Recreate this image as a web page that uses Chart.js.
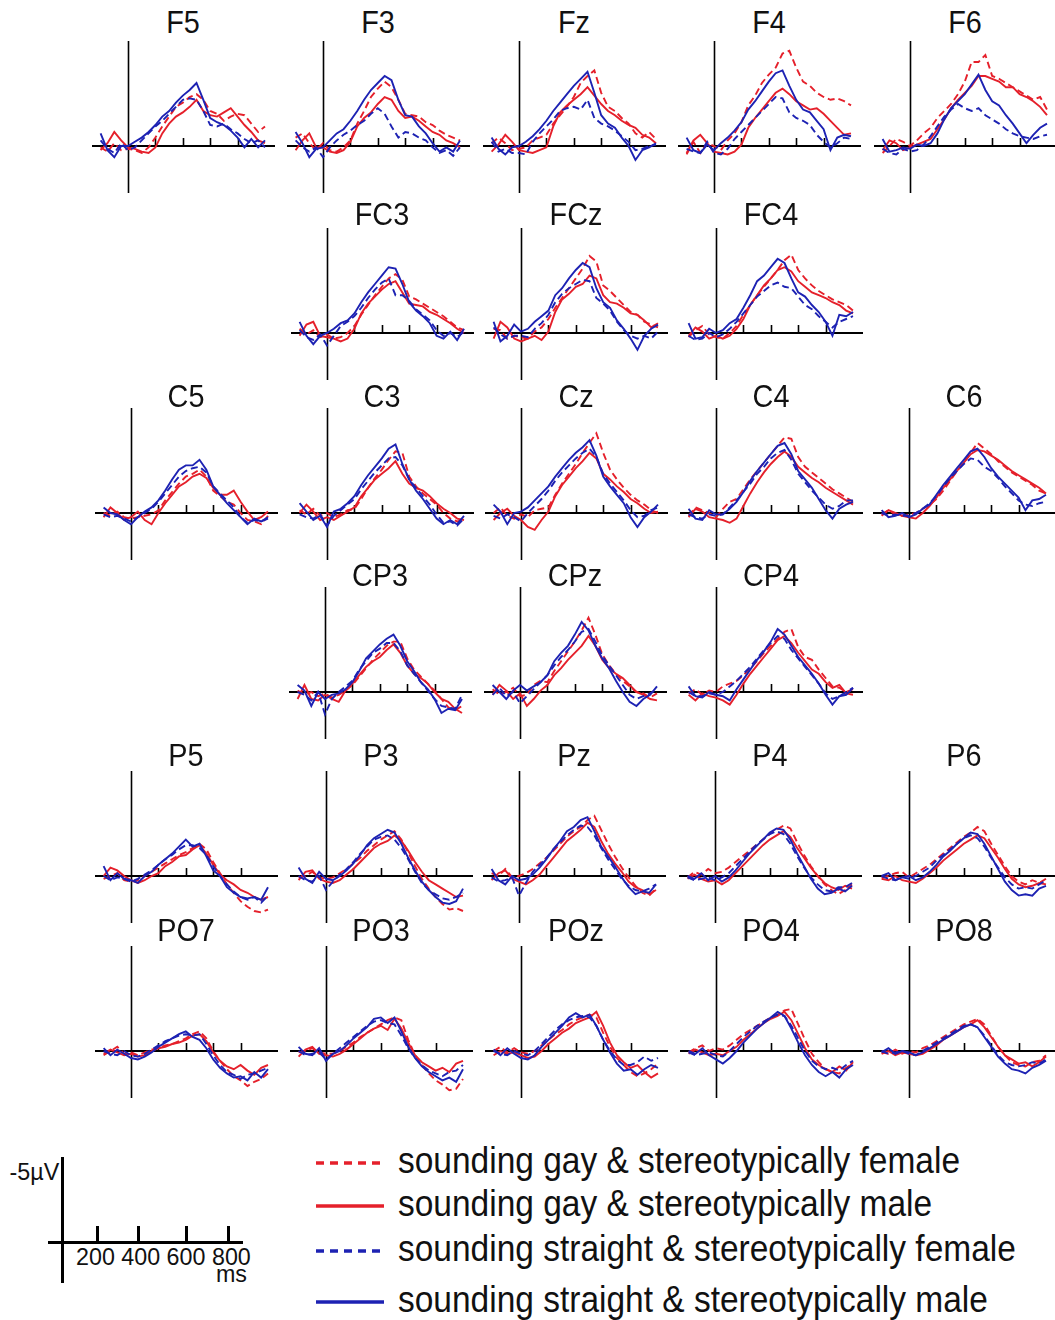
<!DOCTYPE html>
<html>
<head>
<meta charset="utf-8">
<script src="https://cdn.jsdelivr.net/npm/chart.js@4.4.0/dist/chart.umd.min.js"></script>
<style>
  html, body { margin:0; padding:0; background:#fff; width:1055px; height:1320px; overflow:hidden; position:relative; font-family:"Liberation Sans", Arial, Helvetica, sans-serif; }
  canvas.panel { position:absolute; }
  .title { position:absolute; font-size:31px; line-height:31px; white-space:nowrap; color:#111; transform:translateX(-50%) scaleX(0.93); }
  .legtext { position:absolute; font-size:36px; line-height:36px; white-space:nowrap; color:#111; transform-origin:0 0; transform:scaleX(0.93); }
  .sb { position:absolute; background:#000; }
  .sblab { position:absolute; font-size:24px; line-height:24px; white-space:pre; color:#111; }
</style>
</head>
<body>
<script>
// ---------------- DATA ----------------
const times = [-200,-150,-100,-50,0,50,100,150,200,250,300,350,400,450,500,550,600,650,700,750,800,850,900,950,1000];
const channels = ['F5','F3','Fz','F4','F6','FC3','FCz','FC4','C5','C3','Cz','C4','C6','CP3','CPz','CP4','P5','P3','Pz','P4','P6','PO7','PO3','POz','PO4','PO8'];
const tickTimes = [200,400,600,800];
const tickLabels = ['200','400','600','800'];
const legendLabels = ['sounding gay & stereotypically female','sounding gay & stereotypically male','sounding straight & stereotypically female','sounding straight & stereotypically male'];

// sounding gay & stereotypically female (red dashed), µV
const gayFemale = [
[0.1,0.4,-0.2,0.3,0.2,0.3,0.5,0.1,-0.6,-1.4,-2.1,-2.8,-3.1,-3.5,-3.7,-3.3,-2.5,-2.3,-1.8,-2.1,-2.3,-2.2,-1.6,-1.0,-1.4],
[-0.6,-0.9,-0.2,0.3,-0.2,0.3,0.4,0.1,-0.4,-1.6,-2.5,-3.5,-4.1,-4.6,-4.2,-3.3,-2.3,-2.2,-2.1,-1.7,-1.5,-1.1,-0.8,-0.6,-0.4],
[-0.2,-0.6,-0.2,0.3,0.2,0.1,-0.4,-0.6,-0.8,-1.6,-2.2,-2.8,-3.5,-4.5,-5.0,-5.4,-3.8,-2.8,-2.5,-2.0,-1.6,-0.9,-0.6,-1.0,-0.5],
[0.6,-0.3,0.5,-0.2,0.0,0.3,-0.4,-0.9,-1.7,-2.9,-3.6,-4.5,-5.1,-5.6,-6.6,-6.8,-5.6,-4.6,-4.3,-3.8,-3.5,-3.3,-3.4,-3.2,-2.9],
[0.5,0.0,-0.5,-0.3,0.0,-0.4,-0.9,-1.3,-2.0,-2.5,-3.0,-3.7,-4.6,-6.0,-6.0,-6.5,-5.0,-4.8,-4.5,-4.2,-3.9,-3.6,-3.3,-3.5,-2.6],
[-0.3,0.1,-0.2,0.3,0.1,0.4,0.3,0.0,-0.5,-1.3,-2.0,-2.7,-3.3,-3.9,-4.2,-3.8,-2.6,-2.4,-2.1,-1.8,-1.5,-1.2,-0.8,-0.4,-0.2],
[-0.3,-0.2,0.4,0.2,0.3,0.4,-0.1,-0.4,-1.0,-1.8,-2.5,-3.2,-3.9,-4.6,-5.5,-5.1,-3.4,-3.0,-2.5,-2.0,-1.5,-1.3,-0.8,-0.6,-0.4],
[0.3,-0.2,-0.5,0.1,0.3,0.4,0.0,-0.5,-1.3,-2.0,-2.7,-3.3,-3.9,-4.5,-5.2,-5.6,-4.5,-3.9,-3.4,-3.0,-2.7,-2.4,-2.2,-2.0,-1.6],
[0.0,0.2,-0.1,0.3,0.4,0.3,0.2,0.1,-0.2,-0.9,-1.5,-2.1,-2.6,-2.8,-3.1,-2.6,-1.6,-1.2,-0.8,-0.6,0.0,0.5,0.6,0.8,0.2],
[-0.2,0.1,-0.3,0.2,0.0,0.3,0.1,-0.2,-0.3,-1.0,-1.8,-2.5,-3.1,-3.8,-4.4,-4.3,-2.6,-1.9,-1.4,-1.0,-0.6,0.0,0.4,0.6,0.5],
[0.0,-0.4,0.2,0.4,0.1,0.3,-0.2,-0.3,-0.4,-1.3,-2.1,-2.8,-3.5,-4.3,-5.0,-5.7,-4.3,-3.1,-2.4,-1.8,-1.3,-0.9,-0.6,-0.2,0.0],
[0.2,-0.4,-0.2,0.0,0.3,-0.3,-0.8,-1.0,-1.7,-2.4,-3.0,-3.6,-4.2,-4.8,-5.4,-5.3,-4.0,-3.3,-2.9,-2.5,-2.1,-1.7,-1.4,-1.1,-0.8],
[0.1,-0.2,0.1,0.2,0.1,0.0,-0.3,-0.6,-1.0,-1.6,-2.3,-3.0,-3.6,-4.3,-5.0,-4.6,-4.2,-3.7,-3.3,-2.9,-2.6,-2.3,-2.0,-1.6,-1.4],
[-0.1,0.2,0.0,0.3,0.1,0.4,0.2,-0.1,-0.5,-1.1,-1.7,-2.3,-2.8,-3.3,-3.6,-3.6,-2.4,-1.6,-1.1,-0.6,-0.1,0.5,1.1,1.3,1.0],
[-0.2,0.2,0.0,-0.3,0.3,0.2,-0.5,-0.8,-0.7,-1.5,-2.2,-2.9,-3.6,-4.4,-5.3,-4.1,-2.7,-1.9,-1.3,-0.8,-0.4,0.0,0.1,0.4,0.1],
[0.1,-0.2,0.2,-0.1,0.0,-0.4,-0.6,-0.8,-1.2,-1.7,-2.2,-2.8,-3.3,-3.8,-4.3,-4.5,-3.2,-2.5,-2.3,-1.6,-1.0,-0.4,-0.3,0.0,-0.2],
[0.2,0.0,-0.2,0.3,0.4,0.3,0.0,-0.3,-0.6,-0.9,-1.2,-1.5,-1.7,-2.0,-2.3,-1.9,-1.0,-0.2,0.6,1.2,1.8,2.2,2.5,2.6,2.4],
[0.1,0.0,-0.3,0.1,0.2,0.1,-0.2,-0.5,-0.9,-1.3,-1.8,-2.2,-2.6,-2.9,-3.2,-2.6,-1.7,-0.7,0.2,0.9,1.5,2.0,2.4,2.3,2.5],
[-0.2,0.0,-0.5,0.1,0.0,-0.2,-0.5,-0.9,-1.3,-1.8,-2.3,-2.8,-3.2,-3.5,-4.0,-4.3,-3.3,-2.3,-1.4,-0.6,0.1,0.7,1.2,1.4,0.9],
[0.1,-0.3,-0.1,-0.5,-0.2,-0.3,-0.6,-1.0,-1.4,-1.8,-2.2,-2.6,-3.0,-3.3,-3.6,-3.4,-2.4,-1.5,-0.7,0.0,0.6,1.0,1.3,1.0,0.6],
[0.1,0.0,-0.2,-0.3,0.1,-0.2,-0.5,-0.8,-1.2,-1.6,-2.0,-2.4,-2.8,-3.1,-3.5,-3.2,-2.3,-1.5,-0.7,0.0,0.4,0.6,0.3,0.5,0.2],
[0.3,0.0,-0.3,0.2,0.1,0.3,0.1,-0.1,-0.2,-0.4,-0.5,-0.7,-0.9,-1.2,-1.4,-0.9,0.0,0.7,1.3,1.8,2.1,2.5,2.2,2.0,1.6],
[0.1,0.0,-0.2,0.1,0.2,0.2,0.0,-0.3,-0.6,-1.0,-1.3,-1.6,-1.9,-2.2,-2.4,-2.2,-0.8,0.3,1.0,1.6,2.1,2.4,2.8,2.7,2.0],
[0.0,-0.3,0.1,-0.2,0.1,0.2,0.0,-0.4,-0.8,-1.2,-1.5,-1.9,-2.2,-2.4,-2.6,-2.4,-1.3,-0.3,0.5,1.0,1.5,1.8,1.6,1.3,0.9],
[0.1,-0.2,-0.4,0.0,-0.2,-0.1,-0.4,-0.8,-1.2,-1.5,-1.8,-2.1,-2.4,-2.6,-2.9,-3.0,-1.9,-0.8,0.2,0.8,1.3,1.5,1.6,1.2,0.9],
[0.1,0.2,-0.1,0.2,0.0,0.1,-0.2,-0.4,-0.7,-1.0,-1.3,-1.6,-1.9,-2.1,-2.3,-1.9,-1.1,-0.3,0.3,0.8,1.0,1.1,0.8,0.7,0.3]
];

// sounding gay & stereotypically male (red solid), µV
const gayMale = [
[0.3,-0.2,-1.0,-0.4,0.1,0.2,0.4,0.5,0.1,-0.9,-1.6,-2.1,-2.4,-2.8,-3.3,-2.5,-2.2,-2.1,-2.4,-2.7,-2.1,-1.5,-1.0,-0.4,-0.2],
[0.3,-0.4,-0.9,0.1,0.1,0.4,0.5,0.3,-0.3,-1.4,-2.0,-2.4,-3.0,-3.5,-3.3,-2.5,-2.0,-2.1,-1.8,-1.4,-1.0,-0.8,-0.4,-0.2,0.1],
[0.4,-0.1,-0.8,-0.3,0.3,0.4,0.5,0.3,0.1,-1.4,-2.4,-2.9,-3.3,-3.7,-4.2,-3.6,-3.0,-2.5,-2.2,-1.8,-1.5,-1.3,-0.8,-0.6,-0.2],
[0.5,-0.4,-0.8,-0.2,0.4,0.5,0.6,0.4,-0.1,-1.3,-2.0,-2.6,-3.2,-3.8,-4.1,-3.7,-3.2,-2.9,-2.6,-2.7,-2.3,-1.8,-1.3,-0.8,-0.9],
[0.3,-0.4,-0.2,0.3,0.1,-0.1,-0.3,-0.5,-1.2,-1.9,-2.7,-3.3,-3.8,-4.3,-5.0,-5.0,-4.8,-4.6,-4.2,-4.2,-3.7,-3.5,-3.2,-2.8,-2.2],
[0.2,-0.6,-0.8,0.2,0.3,0.4,0.6,0.4,-0.3,-1.4,-2.1,-2.6,-3.1,-3.5,-3.7,-2.9,-2.1,-2.0,-1.9,-1.5,-1.3,-1.0,-0.7,-0.3,0.0],
[0.4,-0.8,-0.4,0.4,0.6,0.4,0.2,0.5,-0.1,-1.5,-2.4,-2.8,-3.3,-3.5,-4.1,-3.9,-2.7,-2.2,-2.1,-1.8,-1.4,-1.3,-0.9,-0.4,-0.7],
[0.2,-0.4,-0.1,0.4,0.2,0.4,0.2,-0.3,-1.0,-2.0,-2.7,-3.4,-3.9,-4.5,-4.7,-4.4,-3.7,-3.3,-2.9,-2.7,-2.5,-2.2,-2.0,-1.6,-1.4],
[0.3,-0.4,0.0,0.5,0.3,-0.1,0.5,0.8,0.0,-0.7,-1.3,-1.9,-2.2,-2.6,-2.8,-2.5,-1.8,-1.3,-1.3,-1.6,-0.8,-0.1,0.5,0.3,-0.1],
[0.0,-0.6,-0.1,0.5,0.3,0.5,0.2,-0.1,-0.4,-1.2,-1.8,-2.4,-2.8,-3.2,-3.7,-2.8,-2.1,-1.8,-1.6,-1.2,-0.7,-0.3,0.0,0.4,0.5],
[0.5,0.0,-0.3,0.2,0.5,1.0,1.2,0.5,-0.1,-1.2,-2.0,-2.6,-3.2,-3.7,-4.3,-3.9,-2.8,-2.4,-1.9,-1.5,-1.0,-0.7,-0.3,0.0,-0.1],
[0.3,-0.3,-0.1,0.3,0.4,0.5,0.7,0.4,-0.5,-1.4,-2.2,-2.9,-3.5,-4.0,-4.4,-4.0,-3.3,-2.9,-2.5,-2.2,-1.8,-1.5,-1.2,-0.9,-0.6],
[0.2,-0.2,0.0,0.2,0.3,0.4,0.0,-0.5,-1.1,-1.8,-2.4,-3.0,-3.6,-4.2,-4.5,-4.4,-4.1,-3.8,-3.4,-3.0,-2.7,-2.4,-2.1,-1.8,-1.4],
[0.5,-0.5,0.5,0.6,0.2,0.5,0.7,-0.1,-0.6,-1.2,-1.8,-2.2,-2.5,-3.0,-3.4,-2.8,-1.9,-1.3,-1.0,-0.6,0.0,0.5,0.7,1.2,1.5],
[0.2,-0.5,-0.1,0.5,0.1,1.0,0.5,-0.1,-0.5,-1.2,-1.7,-2.3,-2.8,-3.3,-4.0,-3.3,-2.3,-1.7,-1.3,-1.0,-0.5,0.0,0.2,0.5,0.6],
[0.2,0.6,0.1,0.3,0.4,0.6,0.9,0.2,-0.6,-1.3,-1.9,-2.5,-3.1,-3.7,-4.0,-3.5,-2.8,-2.2,-1.6,-1.3,-0.7,-0.3,-0.5,0.1,0.2],
[0.0,-0.6,-0.4,0.0,0.3,0.5,0.3,0.0,-0.2,-0.7,-1.0,-1.4,-1.5,-1.9,-2.2,-1.6,-0.8,-0.1,0.3,0.6,1.0,1.2,1.5,1.7,1.5],
[0.3,-0.3,-0.4,0.2,0.4,0.5,0.3,-0.1,-0.5,-1.0,-1.5,-2.0,-2.3,-2.5,-2.9,-2.5,-1.8,-1.0,-0.3,0.3,0.6,0.9,1.2,1.5,1.4],
[0.3,-0.2,-0.4,0.2,0.4,0.6,0.3,-0.1,-0.7,-1.3,-1.9,-2.5,-2.9,-3.3,-3.8,-3.5,-2.5,-1.6,-0.9,-0.3,0.4,0.8,1.0,1.3,1.0],
[0.2,-0.1,0.2,0.4,0.3,0.6,0.3,-0.2,-0.7,-1.2,-1.7,-2.2,-2.6,-2.9,-3.2,-2.8,-2.0,-1.3,-0.6,0.0,0.5,0.8,1.0,0.7,0.9],
[0.2,0.3,0.0,0.3,0.4,0.5,0.2,-0.2,-0.6,-1.1,-1.5,-1.9,-2.3,-2.6,-2.9,-2.7,-2.0,-1.3,-0.5,0.2,0.6,0.8,0.7,0.5,0.6],
[0.2,-0.1,0.1,0.3,0.2,0.4,0.3,0.0,-0.2,-0.3,-0.5,-0.6,-0.8,-1.1,-1.2,-0.7,0.1,0.7,1.1,1.3,1.0,1.4,1.7,1.2,1.0],
[0.4,-0.1,-0.3,0.2,0.3,0.4,0.2,-0.1,-0.5,-0.9,-1.3,-1.6,-1.8,-1.5,-2.3,-1.6,-0.6,0.3,0.8,1.1,1.4,1.2,1.5,0.9,0.7],
[0.3,0.0,0.2,0.1,0.3,0.5,0.4,0.0,-0.5,-0.9,-1.3,-1.6,-2.0,-2.2,-2.4,-2.8,-1.8,-0.6,0.3,0.8,1.2,1.0,1.5,1.9,1.6],
[0.2,-0.1,0.1,0.3,0.2,0.3,0.0,-0.3,-0.8,-1.2,-1.6,-2.0,-2.3,-2.5,-2.8,-2.2,-1.2,-0.2,0.6,1.0,1.3,1.5,1.1,1.4,0.8],
[0.2,0.0,0.3,0.1,0.2,0.3,0.2,-0.1,-0.4,-0.8,-1.1,-1.4,-1.7,-1.9,-2.2,-1.7,-1.0,-0.3,0.3,0.6,0.9,0.8,1.1,0.8,0.4]
];

// sounding straight & stereotypically female (blue dashed), µV
const straightFemale = [
[-0.4,0.2,0.5,-0.2,0.3,0.1,-0.4,-0.9,-1.4,-1.8,-2.3,-2.8,-3.3,-3.4,-3.3,-2.5,-1.5,-1.4,-1.6,-1.2,-0.9,-0.5,-0.2,-0.4,0.1],
[-0.4,0.1,0.4,0.1,0.8,0.1,-0.4,-0.8,-1.1,-1.5,-1.8,-2.3,-2.7,-2.3,-1.4,-0.6,-1.0,-0.9,-0.6,-0.4,0.1,0.5,0.3,0.7,0.1],
[-0.3,0.4,0.2,0.5,0.5,0.6,-0.3,-0.9,-1.4,-1.9,-2.5,-2.7,-2.8,-2.6,-3.3,-2.0,-1.6,-1.4,-1.1,-0.7,-0.3,0.3,0.2,0.0,-0.1],
[0.2,0.4,0.5,-0.3,0.5,0.6,0.2,-0.5,-1.0,-1.5,-2.0,-2.5,-3.0,-3.5,-3.4,-2.4,-2.0,-1.8,-1.5,-0.8,-0.3,0.1,-0.2,-0.6,-0.5],
[0.2,0.5,0.6,0.2,0.4,0.3,-0.1,-0.7,-1.4,-2.1,-2.6,-3.0,-2.7,-2.5,-2.7,-2.2,-1.9,-1.6,-1.2,-0.9,-0.7,-0.6,-0.5,-0.7,-0.8],
[-0.2,0.3,0.5,0.1,0.9,0.2,-0.5,-0.8,-1.2,-1.8,-2.5,-3.1,-3.6,-3.9,-2.7,-2.7,-2.3,-1.7,-1.3,-0.9,-0.2,0.2,0.0,0.3,-0.1],
[-0.4,0.1,0.4,0.2,0.2,0.3,-0.3,-0.7,-1.3,-2.2,-2.8,-3.2,-3.5,-3.8,-3.7,-2.5,-2.1,-1.6,-0.8,-0.2,0.2,0.4,0.2,0.4,-0.1],
[0.2,0.5,0.4,0.0,0.3,0.1,-0.3,-0.8,-1.4,-2.0,-2.6,-3.0,-3.4,-3.6,-3.3,-3.2,-2.6,-2.0,-1.7,-1.2,-0.8,-0.4,-0.8,-1.0,-1.2],
[0.1,0.3,0.2,0.4,0.6,0.3,0.0,-0.3,-0.8,-1.4,-2.0,-2.6,-3.0,-3.2,-3.3,-2.9,-1.9,-1.4,-0.9,-0.4,0.3,0.7,0.5,0.6,0.3],
[0.1,0.3,0.4,0.1,0.9,0.2,-0.2,-0.6,-1.0,-1.7,-2.3,-2.9,-3.4,-3.9,-4.0,-3.4,-2.4,-1.8,-1.2,-0.6,0.1,0.7,0.6,0.9,0.4],
[0.2,0.4,0.1,0.3,0.6,0.0,-0.5,-1.0,-1.6,-2.3,-2.9,-3.4,-3.9,-4.3,-4.6,-4.0,-2.8,-2.1,-1.5,-0.9,-0.2,0.3,0.2,-0.2,-0.4],
[0.1,0.3,0.4,0.1,0.2,0.1,-0.4,-0.9,-1.5,-2.1,-2.8,-3.3,-3.9,-4.3,-4.5,-3.8,-2.8,-2.2,-1.6,-1.1,-0.6,-0.3,-0.5,-0.9,-0.9],
[0.0,0.2,0.1,0.2,0.2,0.0,-0.3,-0.7,-1.2,-1.9,-2.5,-3.0,-3.5,-3.9,-3.8,-3.3,-3.0,-2.5,-1.9,-1.4,-0.9,-0.6,-0.5,-0.7,-0.8],
[0.0,0.2,0.6,0.0,1.6,0.5,0.0,-0.4,-0.8,-1.6,-2.2,-2.8,-3.1,-3.5,-3.5,-2.9,-1.9,-1.3,-0.7,-0.1,0.5,1.0,1.1,1.2,0.2],
[0.2,-0.3,0.3,0.0,0.8,0.3,-0.2,-0.7,-1.2,-1.9,-2.5,-3.0,-3.6,-4.3,-4.5,-3.6,-2.6,-1.9,-1.2,-0.5,0.2,0.5,0.3,0.1,-0.2],
[0.0,0.3,0.3,0.1,0.2,0.0,-0.4,-0.8,-1.3,-1.8,-2.4,-3.0,-3.5,-4.0,-3.8,-3.0,-2.4,-1.8,-1.2,-0.6,0.1,0.5,0.3,0.0,-0.3],
[0.0,0.3,0.1,0.2,0.4,0.2,-0.1,-0.4,-0.8,-1.2,-1.5,-1.9,-2.2,-2.2,-2.0,-1.5,-0.7,0.0,0.6,1.1,1.5,1.7,1.5,1.9,1.4],
[0.0,0.3,0.4,0.0,1.0,0.4,-0.1,-0.5,-1.0,-1.6,-2.1,-2.6,-2.8,-2.9,-2.6,-2.0,-1.2,-0.3,0.5,1.0,1.3,1.6,1.7,1.5,1.2],
[0.1,0.4,0.3,0.1,1.4,0.5,-0.3,-0.8,-1.3,-1.9,-2.4,-2.9,-3.3,-3.6,-3.5,-2.9,-2.0,-1.2,-0.5,0.2,0.7,1.0,1.1,0.9,0.6],
[0.1,0.3,0.2,0.1,0.3,0.1,-0.2,-0.7,-1.2,-1.7,-2.2,-2.6,-3.0,-3.2,-3.0,-2.3,-1.4,-0.6,0.1,0.6,1.0,1.1,0.8,0.8,0.5],
[0.0,0.2,0.3,0.1,0.2,0.0,-0.3,-0.6,-1.1,-1.5,-1.9,-2.3,-2.7,-2.9,-2.7,-2.1,-1.3,-0.6,0.1,0.6,0.9,0.8,0.9,0.6,0.3],
[0.0,0.2,0.3,0.0,0.3,0.4,0.2,-0.1,-0.4,-0.7,-0.9,-1.1,-1.2,-1.1,-1.2,-0.5,0.3,1.0,1.5,1.7,2.0,1.7,1.6,1.4,1.2],
[0.0,0.3,0.2,0.1,0.6,0.2,-0.2,-0.6,-1.0,-1.4,-1.8,-2.1,-2.2,-2.0,-1.9,-1.1,-0.2,0.5,1.0,1.4,1.6,1.8,1.5,1.4,1.0],
[0.0,0.2,0.3,0.0,0.2,0.3,0.0,-0.5,-1.0,-1.5,-1.9,-2.2,-2.4,-2.5,-2.4,-1.8,-0.8,0.0,0.6,1.0,1.0,0.8,0.4,0.7,0.5],
[0.1,0.3,0.2,0.1,0.3,0.4,0.0,-0.5,-1.0,-1.4,-1.8,-2.1,-2.4,-2.6,-2.5,-1.8,-0.9,0.0,0.7,1.1,1.3,1.2,1.4,1.0,0.7],
[0.0,0.2,0.1,0.0,0.2,0.3,0.0,-0.3,-0.6,-0.9,-1.2,-1.5,-1.8,-1.9,-1.7,-1.1,-0.4,0.3,0.8,1.0,1.1,1.0,0.8,0.9,0.6]
];

// sounding straight & stereotypically male (blue solid), µV
const straightMale = [
[-0.9,0.3,0.8,0.0,0.0,-0.3,-0.6,-1.0,-1.5,-2.1,-2.5,-3.1,-3.6,-4.0,-4.5,-3.3,-2.0,-1.7,-1.5,-1.1,-0.6,0.1,-0.5,0.1,-0.4],
[-1.0,-0.2,0.8,0.2,0.1,-0.4,-0.9,-1.2,-1.8,-2.5,-3.3,-4.0,-4.5,-5.0,-4.7,-3.3,-2.2,-2.1,-1.4,-0.9,-0.2,0.4,0.1,0.4,-0.4],
[-0.6,0.2,0.6,0.1,0.0,-0.3,-0.7,-1.2,-1.8,-2.5,-3.1,-3.7,-4.3,-4.8,-5.3,-3.8,-2.2,-1.6,-1.3,-0.6,0.0,1.0,0.3,0.1,-0.2],
[-0.6,0.3,0.5,-0.1,0.3,-0.2,-0.6,-1.1,-1.7,-2.6,-3.2,-3.9,-4.6,-5.2,-5.4,-4.3,-3.3,-2.6,-2.4,-1.8,-1.2,0.3,-0.6,-0.8,-0.7],
[-0.5,0.4,0.3,0.1,0.2,-0.1,0.0,-0.2,-0.9,-1.9,-2.7,-3.2,-3.7,-4.4,-5.1,-4.0,-3.2,-2.9,-2.2,-1.6,-0.9,-0.2,-0.8,-1.3,-1.6],
[-0.8,0.2,0.8,0.2,0.0,-0.3,-0.7,-0.9,-1.4,-2.2,-2.9,-3.5,-4.1,-4.7,-4.6,-3.5,-2.2,-1.6,-1.2,-0.7,0.2,0.4,-0.1,0.5,-0.3],
[-0.8,0.6,0.2,-0.6,-0.1,-0.3,-0.8,-1.2,-1.6,-2.7,-3.2,-3.9,-4.5,-5.0,-4.7,-3.2,-2.2,-1.8,-0.9,-0.3,0.4,1.2,0.2,-0.3,-0.6],
[-0.7,0.4,0.3,-0.3,0.0,-0.2,-0.7,-1.0,-1.8,-2.7,-3.7,-4.1,-4.7,-5.3,-5.0,-3.9,-2.9,-2.6,-2.0,-1.5,-0.8,0.2,-1.3,-1.2,-1.5],
[-0.4,0.0,0.1,0.5,0.8,0.3,-0.1,-0.4,-0.9,-1.6,-2.4,-3.1,-3.4,-3.4,-3.8,-3.1,-1.9,-1.3,-0.7,-0.2,0.3,0.8,0.4,0.6,0.4],
[-0.7,-0.1,0.5,0.2,1.0,-0.1,-0.3,-0.7,-1.2,-2.0,-2.7,-3.3,-3.9,-4.6,-4.9,-3.5,-2.4,-1.6,-1.0,-0.3,0.4,0.8,0.5,0.8,0.2],
[-0.6,-0.1,0.8,0.0,-0.1,-0.4,-0.9,-1.4,-1.9,-2.6,-3.2,-3.8,-4.3,-4.7,-5.2,-4.1,-2.6,-1.9,-1.3,-0.7,0.3,1.0,0.3,-0.1,-0.6],
[-0.3,0.4,0.5,-0.2,0.1,0.1,-0.3,-0.8,-1.5,-2.3,-3.0,-3.6,-4.2,-4.8,-5.0,-4.2,-3.0,-2.4,-1.8,-1.0,-0.2,0.4,-0.3,-0.6,-0.8],
[-0.2,0.3,0.2,0.0,0.3,0.1,-0.3,-0.6,-1.3,-2.0,-2.6,-3.2,-3.8,-4.4,-4.6,-4.0,-3.2,-2.6,-2.1,-1.6,-1.1,-0.2,-0.9,-1.0,-1.3],
[-0.5,-0.1,1.0,0.0,0.5,0.2,0.1,-0.2,-0.7,-1.5,-2.4,-2.9,-3.4,-3.8,-4.1,-3.3,-2.2,-1.5,-0.7,-0.2,0.5,1.5,1.2,1.3,0.5],
[-0.5,0.0,0.5,-0.1,-0.5,-0.1,-0.4,-0.7,-1.2,-2.2,-2.8,-3.3,-4.1,-5.0,-4.4,-3.3,-2.4,-1.7,-0.8,0.0,0.7,1.0,0.5,0.2,-0.4],
[-0.4,0.3,0.4,0.0,0.2,0.3,0.6,-0.2,-0.9,-1.6,-2.3,-2.9,-3.6,-4.5,-4.1,-3.3,-2.5,-1.9,-1.3,-0.6,0.2,0.9,0.3,0.2,-0.3],
[-0.7,0.3,-0.2,0.2,0.3,0.5,0.0,-0.3,-0.8,-1.2,-1.6,-2.1,-2.6,-2.1,-2.3,-1.4,-0.4,0.0,0.8,1.2,1.5,1.6,1.5,1.7,0.8],
[-0.6,0.2,0.5,-0.3,0.2,0.3,0.0,-0.4,-0.9,-1.5,-2.2,-2.7,-3.0,-3.3,-3.1,-2.3,-1.3,-0.4,0.4,1.0,1.5,1.9,2.0,1.8,0.9],
[-0.5,0.3,0.6,0.0,0.3,0.2,-0.1,-0.6,-1.2,-1.9,-2.5,-3.2,-3.5,-4.0,-4.2,-3.2,-2.1,-1.4,-0.7,0.1,0.8,1.3,1.1,1.2,0.6],
[0.0,0.2,-0.2,0.3,0.0,0.4,0.1,-0.4,-1.0,-1.6,-2.1,-2.6,-3.1,-3.4,-3.3,-2.6,-1.6,-0.7,0.2,0.9,1.3,1.2,0.9,1.1,0.7],
[0.0,-0.2,0.3,0.1,0.0,0.3,0.1,-0.3,-0.8,-1.4,-1.8,-2.3,-2.7,-3.1,-3.0,-2.3,-1.4,-0.5,0.4,1.0,1.4,1.3,1.4,0.9,0.7],
[-0.2,0.3,-0.1,0.2,0.5,0.6,0.4,0.1,-0.3,-0.6,-0.9,-1.2,-1.4,-1.0,-0.8,-0.2,0.6,1.2,1.6,1.9,1.8,2.1,1.5,1.9,1.3],
[-0.3,0.2,0.3,-0.2,0.7,0.2,0.0,-0.4,-0.9,-1.3,-1.7,-2.3,-2.4,-2.0,-2.4,-1.4,-0.3,0.5,1.1,1.5,1.8,2.1,1.9,2.2,1.3],
[-0.1,0.3,-0.2,0.2,0.5,0.6,0.3,-0.3,-0.8,-1.3,-1.8,-2.4,-2.7,-2.4,-2.6,-1.8,-0.8,0.1,0.9,1.4,1.3,1.7,1.3,1.0,1.2],
[0.0,0.2,-0.2,0.3,0.6,0.9,0.5,0.0,-0.6,-1.1,-1.6,-2.0,-2.4,-2.8,-2.5,-1.6,-0.6,0.3,1.0,1.5,1.8,1.5,1.9,1.3,1.0],
[0.1,-0.2,0.2,0.0,0.1,0.3,0.1,-0.2,-0.5,-0.8,-1.1,-1.4,-1.7,-1.9,-1.7,-1.0,-0.3,0.4,0.9,1.3,1.4,1.6,1.2,1.0,0.7]
];

// ---------------- LAYOUT (page pixels of each panel's origin: time 0 / 0 µV, and title centre y) ----------------
const panelPos = [
 [128,146,22],[323,146,22],[519,146,22],[714,146,22],[910,146,22],
 [327,333,214],[521,333,214],[716,333,214],
 [131,513,396],[327,513,396],[521,513,396],[716,513,396],[909,513,396],
 [325,692,575],[520,692,575],[716,692,575],
 [131,876,755],[326,876,755],[519,876,755],[715,876,755],[909,876,755],
 [131,1051,930],[326,1051,930],[521,1051,930],[716,1051,930],[909,1051,930]
];
const PX_PER_MS = 0.137, PX_PER_UV = 14;
const LEFT_PX = 36, TOP_PX = 105, W = 184, H = 152;
const RED = '#e5202b', BLUE = '#1d22b3';

const axesPlugin = {
  id: 'erpAxes',
  beforeDatasetsDraw(chart) {
    const {ctx, chartArea: a, scales: {x, y}} = chart;
    const x0 = Math.round(x.getPixelForValue(0)) + 0.5;
    const y0 = Math.round(y.getPixelForValue(0));
    ctx.save();
    ctx.strokeStyle = '#000';
    ctx.lineCap = 'butt';
    ctx.lineWidth = 1.6;
    ctx.beginPath(); ctx.moveTo(x0, a.top); ctx.lineTo(x0, a.bottom); ctx.stroke();
    ctx.lineWidth = 2;
    ctx.beginPath(); ctx.moveTo(a.left, y0); ctx.lineTo(x.getPixelForValue(1073), y0); ctx.stroke();
    ctx.lineWidth = 1.6;
    tickTimes.forEach(t => {
      const px = Math.round(x.getPixelForValue(t)) + 0.5;
      ctx.beginPath(); ctx.moveTo(px, y0); ctx.lineTo(px, y0 - 8); ctx.stroke();
    });
    ctx.restore();
  }
};

function mk(arr, color, dashed) {
  return {
    data: times.map((t, i) => ({x: t, y: arr[i]})),
    borderColor: color, borderWidth: 1.9, borderDash: dashed ? [7, 4] : [],
    pointRadius: 0, fill: false, tension: 0
  };
}

channels.forEach((ch, i) => {
  const [x0, y0, ty] = panelPos[i];
  const cv = document.createElement('canvas');
  cv.className = 'panel';
  cv.width = W; cv.height = H;
  cv.style.left = (x0 - LEFT_PX) + 'px';
  cv.style.top = (y0 - TOP_PX) + 'px';
  cv.style.width = W + 'px'; cv.style.height = H + 'px';
  document.body.appendChild(cv);
  const xmin = -LEFT_PX / PX_PER_MS, xmax = xmin + W / PX_PER_MS;
  const ymin = -TOP_PX / PX_PER_UV, ymax = ymin + H / PX_PER_UV;
  new Chart(cv.getContext('2d'), {
    type: 'line',
    data: { datasets: [
      mk(straightMale[i], BLUE, false),
      mk(straightFemale[i], BLUE, true),
      mk(gayMale[i], RED, false),
      mk(gayFemale[i], RED, true)
    ]},
    options: {
      responsive: false, animation: false, events: [],
      layout: { padding: 0 },
      plugins: { legend: { display: false }, tooltip: { enabled: false } },
      scales: {
        x: { type: 'linear', display: false, min: xmin, max: xmax },
        y: { type: 'linear', display: false, reverse: true, min: ymin, max: ymax }
      }
    },
    plugins: [axesPlugin]
  });
  const t = document.createElement('div');
  t.className = 'title';
  t.textContent = ch;
  t.style.left = (x0 + 55) + 'px';
  t.style.top = (ty - 15) + 'px';
  document.body.appendChild(t);
});

// ---------------- SCALE BAR ----------------
function box(l, t, w, h) { const d = document.createElement('div'); d.className = 'sb'; Object.assign(d.style, {left:l+'px', top:t+'px', width:w+'px', height:h+'px'}); document.body.appendChild(d); }
box(61, 1157, 3, 126);
box(48, 1241, 195, 3);
const sbTickX = [97, 138, 186, 228];
sbTickX.forEach(x => box(x - 1, 1226, 3, 16));
function lab(txt, x, cy, align) {
  const d = document.createElement('div'); d.className = 'sblab'; d.textContent = txt;
  d.style.top = (cy - 12) + 'px';
  if (align === 'right') { d.style.right = (1055 - x) + 'px'; d.style.transformOrigin = '100% 50%'; }
  else { d.style.left = x + 'px'; d.style.transformOrigin = '0 50%'; }
  d.style.transform = 'scaleX(0.97)';
  document.body.appendChild(d);
}
lab(tickLabels.join(' '), 76, 1257, 'left');
lab('ms', 247, 1274, 'right');
lab('-5µV', 59, 1172, 'right');

// ---------------- LEGEND ----------------
const legY = [1163, 1206, 1251, 1302];
const legStyle = [[RED, true], [RED, false], [BLUE, true], [BLUE, false]];
legendLabels.forEach((s, i) => {
  const svg = document.createElementNS('http://www.w3.org/2000/svg', 'svg');
  svg.setAttribute('width', '72'); svg.setAttribute('height', '10');
  svg.style.position = 'absolute'; svg.style.left = '314px'; svg.style.top = (legY[i] - 5) + 'px';
  const ln = document.createElementNS('http://www.w3.org/2000/svg', 'line');
  ln.setAttribute('x1', '2'); ln.setAttribute('x2', '70'); ln.setAttribute('y1', '5'); ln.setAttribute('y2', '5');
  ln.setAttribute('stroke', legStyle[i][0]); ln.setAttribute('stroke-width', '3.5');
  if (legStyle[i][1]) ln.setAttribute('stroke-dasharray', '8 6');
  svg.appendChild(ln); document.body.appendChild(svg);
  const d = document.createElement('div'); d.className = 'legtext'; d.textContent = s;
  d.style.left = '398px'; d.style.top = (legY[i] - 20) + 'px';
  document.body.appendChild(d);
});
</script>
</body>
</html>
